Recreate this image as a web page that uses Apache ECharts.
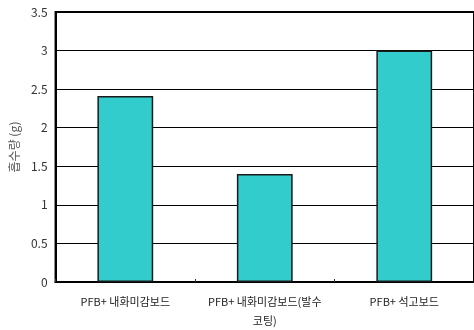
<!DOCTYPE html>
<html><head><meta charset="utf-8">
<script src="https://cdn.jsdelivr.net/npm/echarts@6/dist/echarts.min.js"></script>
<style>html,body{margin:0;padding:0;background:#fff}#c{width:474px;height:330px}</style>
</head><body><div id="c"></div>
<script>
const categories = ['PFB+ 내화미감보드', 'PFB+ 내화미감보드(발수\n코팅)', 'PFB+ 석고보드'];
const values = [2.41, 1.4, 3.0];
const yTicks = [0, 0.5, 1, 1.5, 2, 2.5, 3, 3.5];
const yName = '흡수량 (g)';

const chart = echarts.init(document.getElementById('c'), null, {renderer: 'canvas'});
chart.setOption({
  animation: false,
  textStyle: {fontFamily: '"Noto Sans CJK KR", sans-serif'},
  grid: {left: 55, right: -3, top: 12, bottom: 47, show: true, borderColor: '#000', borderWidth: 2, backgroundColor: 'transparent'},
  xAxis: {
    type: 'category', data: categories,
    axisLine: {lineStyle: {color: '#000', width: 2}},
    axisTick: {show: true, inside: true, length: 3, lineStyle: {color: '#333'}},
    axisLabel: {color: '#222', fontSize: 11, margin: 10, lineHeight: 19, interval: 0}
  },
  yAxis: {
    type: 'value', min: 0, max: 3.5, interval: 0.5,
    name: yName, nameLocation: 'middle', nameGap: 33, nameRotate: 90,
    nameTextStyle: {color: '#555', fontSize: 12},
    axisLine: {show: true, lineStyle: {color: '#000', width: 2}},
    axisTick: {show: false},
    axisLabel: {color: '#333', fontSize: 12, margin: 8, formatter: v => String(v)},
    splitLine: {lineStyle: {color: '#000', width: 1}}
  },
  series: [{
    type: 'bar', data: values, barWidth: '40%',
    itemStyle: {color: '#33CCCC', borderColor: '#1a1a1a', borderWidth: 1.5}
  }]
});
</script></body></html>
